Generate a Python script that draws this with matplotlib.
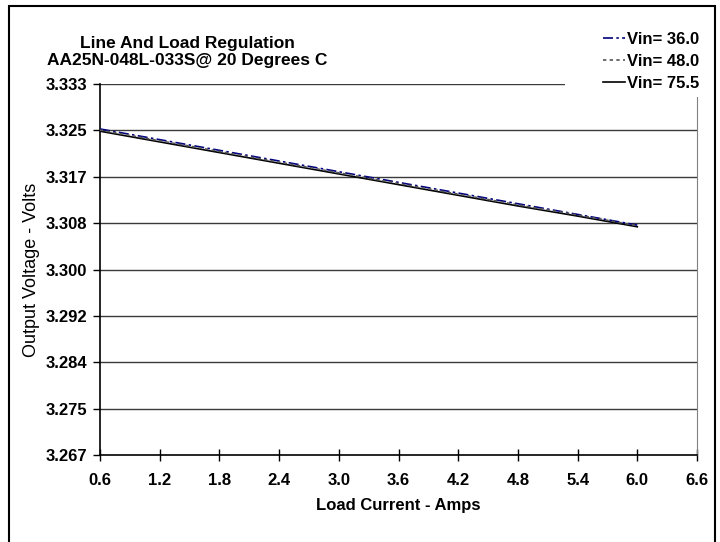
import matplotlib
matplotlib.use("Agg")
import matplotlib.pyplot as plt
from matplotlib.patches import Rectangle
from matplotlib.ticker import FixedLocator, FixedFormatter

plt.rcParams['font.family'] = ['Liberation Sans', 'DejaVu Sans']

# load current (A)
current = [0.6, 1.2, 1.8, 2.4, 3.0, 3.6, 4.2, 4.8, 5.4, 6.0]

# output voltage per input voltage
v_in36 = [3.3250, 3.3231, 3.3212, 3.3193, 3.3174, 3.3155, 3.3136, 3.3117, 3.3098, 3.3079]
v_in48 = [3.3248, 3.3229, 3.3210, 3.3191, 3.3172, 3.3153, 3.3134, 3.3115, 3.3097, 3.3078]
v_in75 = [3.3246, 3.3227, 3.3208, 3.3189, 3.3170, 3.3151, 3.3132, 3.3113, 3.3095, 3.3076]

series_labels = ["Vin= 36.0", "Vin= 48.0", "Vin= 75.5"]

x_ticks = [0.6, 1.2, 1.8, 2.4, 3.0, 3.6, 4.2, 4.8, 5.4, 6.0, 6.6]
y_ticks = [3.267, 3.27525, 3.2835, 3.29175, 3.300, 3.30825, 3.3165, 3.32475, 3.333]
y_tick_labels = ["3.267", "3.275", "3.284", "3.292", "3.300", "3.308", "3.317", "3.325", "3.333"]

fig = plt.figure(figsize=(7.2, 5.42), dpi=100)
ax = fig.add_axes([100 / 720, 1 - 455 / 542, 597 / 720, 371 / 542])

ax.plot(current, v_in36, color="#000080", lw=1.2, ls=(0, (6, 2, 1.5, 2)), label=series_labels[0], zorder=3)
ax.plot(current, v_in48, color="#555555", lw=1.2, ls=(0, (2, 2)), label=series_labels[1], zorder=3)
ax.plot(current, v_in75, color="black", lw=1.2, ls="-", label=series_labels[2], zorder=2)

ax.set_xlim(0.6, 6.6)
ax.set_ylim(3.267, 3.333)
ax.xaxis.set_major_locator(FixedLocator(x_ticks))
ax.set_xticklabels([f"{t:.1f}" for t in x_ticks])
ax.yaxis.set_major_locator(FixedLocator(y_ticks))
ax.yaxis.set_major_formatter(FixedFormatter(y_tick_labels))

for t in y_ticks[1:]:
    ax.axhline(t, color="#3a3a3a", lw=1.0, zorder=1)

for lab in ax.get_xticklabels() + ax.get_yticklabels():
    lab.set_fontweight("bold")
    lab.set_fontsize(12)

ax.tick_params(axis="x", direction="inout", length=8, width=1, pad=9)
ax.tick_params(axis="y", direction="out", length=5, width=1, pad=4)

ax.spines["top"].set_visible(False)
ax.spines["right"].set_color("#808080")
ax.spines["left"].set_linewidth(1.2)
ax.spines["bottom"].set_linewidth(1.2)

ax.set_xlabel("Load Current - Amps", fontsize=12, fontweight="bold", labelpad=7)
ax.set_ylabel("Output Voltage - Volts", fontsize=13, labelpad=4)

fig.text(187 / 720, 1 - 52 / 542, "Line And Load Regulation\nAA25N-048L-033S@ 20 Degrees C",
         ha="center", va="center", fontsize=12.5, fontweight="bold", linespacing=1.15)

# white legend area covering the top right corner of the plot
fig.patches.append(Rectangle((565 / 720, 1 - 97 / 542), 149 / 720, 75 / 542,
                             transform=fig.transFigure, facecolor="white",
                             edgecolor="none", zorder=4))
leg = fig.legend(loc="upper right", bbox_to_anchor=(708 / 720, 1 - 24 / 542),
                 frameon=False, handlelength=1.3,
                 handletextpad=0.15, labelspacing=0.4, borderpad=0,
                 prop={"weight": "bold", "size": 12})
leg.set_zorder(5)

# outer chart border
fig.patches.append(Rectangle((9 / 720, -0.05), 706 / 720, 1.05 - 6 / 542,
                             transform=fig.transFigure, facecolor="none",
                             edgecolor="black", lw=1.5, zorder=6))

fig.savefig("out.png", dpi=100)
